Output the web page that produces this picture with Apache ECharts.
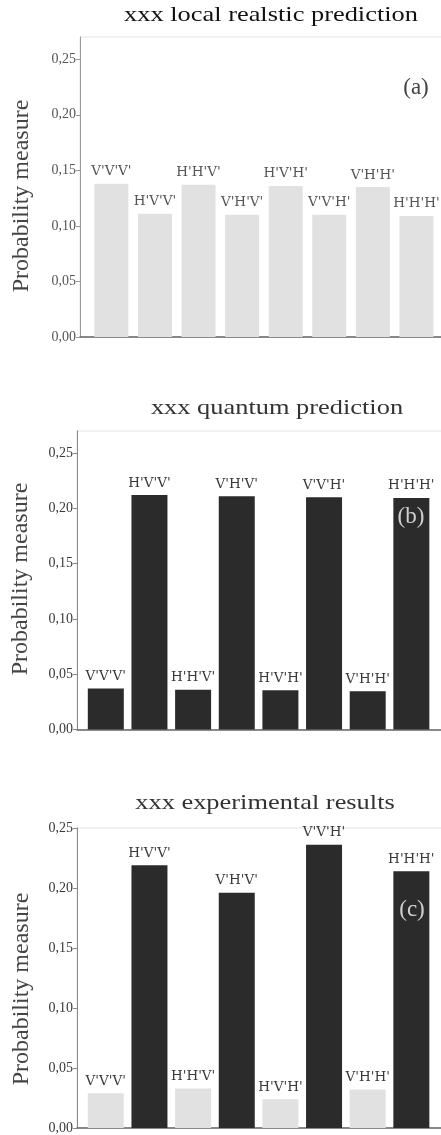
<!DOCTYPE html>
<html>
<head>
<meta charset="utf-8">
<script src="https://cdn.jsdelivr.net/npm/echarts@6/dist/echarts.min.js"></script>
<style>
  html, body { margin: 0; padding: 0; background: #ffffff; }
  #chart { width: 441px; height: 1135px; }
</style>
</head>
<body>
<div id="chart"></div>
<script>
// Polarisation outcome labels, one per bar
const states = ["V'V'V'", "H'V'V'", "H'H'V'", "V'H'V'", "H'V'H'", "V'V'H'", "V'H'H'", "H'H'H'"];

// Probability of each outcome
const localRealistic = [0.138, 0.111, 0.137, 0.110, 0.136, 0.110, 0.135, 0.109];
const quantum        = [0.037, 0.212, 0.036, 0.211, 0.0355, 0.210, 0.0345, 0.2095];
const experimental   = [0.029, 0.219, 0.033, 0.196, 0.024, 0.236, 0.032, 0.214];

// Y axis tick values (major) and intermediate minor ticks
const yTicks = [0, 0.05, 0.10, 0.15, 0.20, 0.25];
const yMinorTicks = [0.025, 0.075, 0.125, 0.175, 0.225];

const panelTitles = ['xxx local realstic prediction', 'xxx quantum prediction', 'xxx experimental results'];
const panelTags = ['(a)', '(b)', '(c)'];
const yName = 'Probability measure';

const SERIF = '"Liberation Serif", "Times New Roman", serif';
const WIDE_SERIF = '"DejaVu Serif", serif';
const LIGHT = '#e1e1e1';
const DARK = '#2b2b2b';

const panels = [
  { values: localRealistic, grid: { left: 80, top: 37, width: 380, height: 300 }, xMin: 0.28, yMax: 0.27,
    color: () => LIGHT, labelColor: '#555', barWidth: 34, axisColor: '#999' },
  { values: quantum, grid: { left: 77, top: 431, width: 378, height: 298.5 }, xMin: 0.34, yMax: 0.27,
    color: () => DARK, labelColor: '#3a3a3a', barWidth: 36, axisColor: '#888' },
  { values: experimental, grid: { left: 77, top: 828, width: 378, height: 300 }, xMin: 0.34, yMax: 0.25,
    color: (p) => (p.dataIndex % 2 === 1 ? DARK : LIGHT), labelColor: '#3a3a3a', barWidth: 36, axisColor: '#888' }
];

const fmt = v => v.toFixed(2).replace('.', ',');

const grids = [], xAxes = [], yAxes = [], series = [];
panels.forEach((p, i) => {
  grids.push(Object.assign({
    show: true, borderColor: '#e4e4e4', borderWidth: 1, backgroundColor: 'transparent',
    outerBoundsMode: 'none', containLabel: false
  }, p.grid));
  xAxes.push({
    type: 'value', gridIndex: i, min: p.xMin, max: 9.0,
    axisLine: { show: true, lineStyle: { color: '#666', width: 1.5 } },
    axisTick: { show: false }, axisLabel: { show: false }, splitLine: { show: false }
  });
  // major ticks with labels
  yAxes.push({
    type: 'value', gridIndex: i, min: 0, max: p.yMax, interval: 0.05,
    axisLine: { show: true, lineStyle: { color: p.axisColor, width: 1 } },
    axisTick: { show: true, length: 4, customValues: yTicks, lineStyle: { color: p.axisColor } },
    axisLabel: { customValues: yTicks, formatter: fmt, fontFamily: SERIF, fontSize: 14, color: p.labelColor, margin: 4 },
    splitLine: { show: false }
  });
  // minor ticks
  yAxes.push({
    type: 'value', gridIndex: i, min: 0, max: p.yMax, interval: 0.05,
    axisLine: { show: false },
    axisTick: { show: true, length: 2.5, customValues: yMinorTicks, lineStyle: { color: '#aaa' } },
    axisLabel: { show: false }, splitLine: { show: false }
  });
  series.push({
    type: 'bar', xAxisIndex: i, yAxisIndex: 2 * i, barWidth: p.barWidth,
    data: p.values.map((v, k) => [k + 1, v]),
    itemStyle: { color: p.color },
    label: {
      show: true, position: 'top', distance: 5,
      formatter: q => states[q.dataIndex],
      fontFamily: WIDE_SERIF, fontSize: 13.5, color: p.labelColor
    },
    silent: true, animation: false
  });
});

// titles, y-axis names and panel tags
const titlePos = [[271, 15], [277, 408], [265, 803]];
const yNamePos = [[22, 196], [21, 579], [22, 989]];
const tagPos = [[416, 88], [411, 517], [412, 910]];
const tagColor = ['#444', '#d0d0d0', '#d0d0d0'];
const graphics = [];
panels.forEach((p, i) => {
  graphics.push({
    type: 'text', x: titlePos[i][0], y: titlePos[i][1], scaleX: 1.2, z: 100,
    style: { text: panelTitles[i], font: '22px ' + SERIF, fill: i === 0 ? '#111' : '#333', textAlign: 'center', textVerticalAlign: 'middle' }
  });
  graphics.push({
    type: 'text', x: yNamePos[i][0], y: yNamePos[i][1], rotation: Math.PI / 2, z: 100,
    style: { text: yName, font: '24px ' + SERIF, fill: '#444', textAlign: 'center', textVerticalAlign: 'middle' }
  });
  graphics.push({
    type: 'text', x: tagPos[i][0], y: tagPos[i][1], z: 100,
    style: { text: panelTags[i], font: '23px ' + SERIF, fill: tagColor[i], textAlign: 'center', textVerticalAlign: 'middle' }
  });
});

const chart = echarts.init(document.getElementById('chart'), null, { renderer: 'canvas' });
chart.setOption({
  animation: false,
  backgroundColor: '#ffffff',
  grid: grids,
  xAxis: xAxes,
  yAxis: yAxes,
  series: series,
  graphic: graphics
});
</script>
</body>
</html>
